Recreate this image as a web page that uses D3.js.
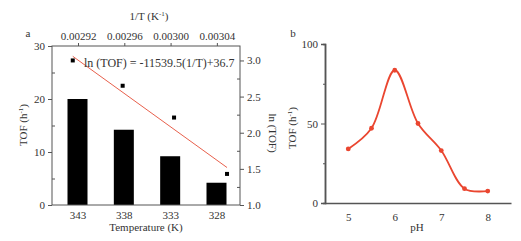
<!DOCTYPE html>
<html>
<head>
<meta charset="utf-8">
<script src="https://cdn.jsdelivr.net/npm/d3@7"></script>
<style>
  body { margin: 0; background: #fff; }
  svg text { font-family: 'Liberation Serif', 'Times New Roman', Times, 'DejaVu Serif', serif !important; }
  .axis path, .axis line { stroke: #555; }
  .axis text { font-size: 11px; fill: #333; }
  .lbl { font-size: 11px; fill: #333; }
</style>
</head>
<body>
<svg id="chart" width="521" height="241"></svg>
<script>
// panel a data
var temps = ["343", "338", "333", "328"];
var tempK = [343, 338, 333, 328];
var tofT = [20.0, 14.2, 9.2, 4.2];
var lnTof = [3.0, 2.65, 2.21, 1.43];
var fitSlope = -11539.5;
var fitIntercept = 36.7;
var invTTicks = [0.00292, 0.00296, 0.00300, 0.00304];

// panel b data
var pH = [5, 5.5, 6, 6.5, 7, 7.5, 8];
var tofPH = [34, 47, 83.5, 50, 33, 9, 7.5];
var pHTicks = [5, 6, 7, 8];

var svg = d3.select("#chart");

// ---- panel a ----
var a = {left: 52, right: 240, top: 46, bottom: 205};

var xBand = d3.scalePoint().domain(temps).range([77.5, 216.5]);
var xInv = d3.scaleLinear().domain([0.0028975, 0.00306]).range([a.left, a.right]);
var yTof = d3.scaleLinear().domain([0, 30]).range([a.bottom, a.top]);
var yLn = d3.scaleLinear().domain([1.0, 3.2]).range([a.bottom, a.top]);

var pa = svg.append("g");

pa.selectAll("rect.bar")
    .data(tofT)
    .enter().append("rect")
      .attr("class", "bar")
      .attr("x", function(d, i) { return xBand(temps[i]) - 10; })
      .attr("width", 20)
      .attr("y", function(d) { return yTof(d); })
      .attr("height", function(d) { return yTof(0) - yTof(d); })
      .attr("fill", "#000");

// fitted line
var x0 = 1 / tempK[0], x1 = 1 / tempK[tempK.length - 1];
pa.append("line")
    .attr("x1", xInv(x0)).attr("y1", yLn(fitSlope * x0 + fitIntercept))
    .attr("x2", xInv(x1)).attr("y2", yLn(fitSlope * x1 + fitIntercept))
    .attr("stroke", "#e8604c")
    .attr("stroke-width", 1);

pa.selectAll("rect.pt")
    .data(lnTof)
    .enter().append("rect")
      .attr("class", "pt")
      .attr("x", function(d, i) { return xInv(1 / tempK[i]) - 2; })
      .attr("y", function(d) { return yLn(d) - 2; })
      .attr("width", 4).attr("height", 4)
      .attr("fill", "#000");

// axes
pa.append("g").attr("class", "axis")
    .attr("transform", `translate(${a.left},0)`)
    .call(d3.axisLeft(yTof).tickValues([0, 10, 20, 30]).tickSizeOuter(0).tickSize(4));
pa.append("g").attr("class", "axis")
    .attr("transform", `translate(${a.left},0)`)
    .call(d3.axisRight(yTof).tickValues([5, 15, 25]).tickSizeOuter(0).tickSize(3).tickFormat(""));

pa.append("g").attr("class", "axis")
    .attr("transform", `translate(${a.right},0)`)
    .call(d3.axisRight(yLn).tickValues([1.0, 1.5, 2.0, 2.5, 3.0]).tickSizeOuter(0).tickSize(4)
      .tickFormat(d3.format(".1f")));
pa.append("g").attr("class", "axis")
    .attr("transform", `translate(${a.right},0)`)
    .call(d3.axisLeft(yLn).tickValues([1.25, 1.75, 2.25, 2.75]).tickSizeOuter(0).tickSize(3).tickFormat(""));

pa.append("g").attr("class", "axis")
    .attr("transform", `translate(0,${a.top})`)
    .call(d3.axisTop(xInv).tickValues(invTTicks).tickSizeOuter(0).tickSize(3)
      .tickFormat(d3.format(".5f")));

pa.append("g").attr("class", "axis")
    .attr("transform", `translate(0,${a.bottom})`)
    .call(d3.axisBottom(xBand).tickSizeOuter(0).tickSize(0).tickPadding(6));
pa.selectAll(".axis .domain").attr("d", null);
pa.append("rect")
    .attr("x", a.left).attr("y", a.top)
    .attr("width", a.right - a.left).attr("height", a.bottom - a.top)
    .attr("fill", "none").attr("stroke", "#555");

pa.append("text").attr("class", "lbl")
    .attr("x", 84).attr("y", 67)
    .style("font-size", "12px")
    .text("ln (TOF) = -11539.5(1/T)+36.7");

pa.append("text").attr("class", "lbl")
    .attr("x", 149).attr("y", 20).attr("text-anchor", "middle")
    .html('1/T (K<tspan dy="-4" font-size="7">-1</tspan><tspan dy="4">)</tspan>');

pa.append("text").attr("class", "lbl")
    .attr("x", 146).attr("y", 231).attr("text-anchor", "middle")
    .text("Temperature (K)");

pa.append("text").attr("class", "lbl")
    .attr("transform", "translate(27,125) rotate(-90)").attr("text-anchor", "middle")
    .html('TOF (h<tspan dy="-4" font-size="7">-1</tspan><tspan dy="4">)</tspan>');

pa.append("text").attr("class", "lbl")
    .attr("transform", "translate(269,133) rotate(90)").attr("text-anchor", "middle")
    .text("ln (TOF)");

pa.append("text").attr("class", "lbl")
    .attr("x", 28).attr("y", 37).attr("text-anchor", "middle")
    .text("a");

// ---- panel b ----
var b = {left: 325, right: 511, top: 44, bottom: 203};
var xPH = d3.scaleLinear().domain([4.5, 8.5]).range([b.left, b.right]);
var yPH = d3.scaleLinear().domain([0, 100]).range([b.bottom, b.top]);

var pb = svg.append("g");

pb.append("g").attr("class", "axis")
    .attr("transform", `translate(${b.left},0)`)
    .call(d3.axisLeft(yPH).tickValues([0, 50, 100]).tickSizeOuter(0).tickSize(4));
pb.append("g").attr("class", "axis")
    .attr("transform", `translate(${b.left},0)`)
    .call(d3.axisLeft(yPH).tickValues([25, 75]).tickSizeOuter(0).tickSize(2).tickFormat(""));
pb.append("g").attr("class", "axis")
    .attr("transform", `translate(0,${b.bottom})`)
    .call(d3.axisBottom(xPH).tickValues(pHTicks).tickSizeOuter(0).tickSize(0).tickPadding(10)
      .tickFormat(d3.format("d")));
pb.selectAll(".axis path.domain").attr("stroke-width", 1.5);

var pts = pH.map(function(d, i) { return [d, tofPH[i]]; });
pb.append("path")
    .datum(pts)
    .attr("d", d3.line()
      .x(function(d) { return xPH(d[0]); })
      .y(function(d) { return yPH(d[1]); })
      .curve(d3.curveCatmullRom.alpha(0.5)))
    .attr("fill", "none")
    .attr("stroke", "#ea4630")
    .attr("stroke-width", 1.8);

pb.selectAll("circle")
    .data(pts)
    .enter().append("circle")
      .attr("cx", function(d) { return xPH(d[0]); })
      .attr("cy", function(d) { return yPH(d[1]); })
      .attr("r", 2.4)
      .attr("fill", "#ea4630");

pb.append("text").attr("class", "lbl")
    .attr("x", 417).attr("y", 231).attr("text-anchor", "middle")
    .text("pH");

pb.append("text").attr("class", "lbl")
    .attr("transform", "translate(296,128) rotate(-90)").attr("text-anchor", "middle")
    .html('TOF (h<tspan dy="-4" font-size="7">-1</tspan><tspan dy="4">)</tspan>');

pb.append("text").attr("class", "lbl")
    .attr("x", 293).attr("y", 37).attr("text-anchor", "middle")
    .text("b");
</script>
</body>
</html>
